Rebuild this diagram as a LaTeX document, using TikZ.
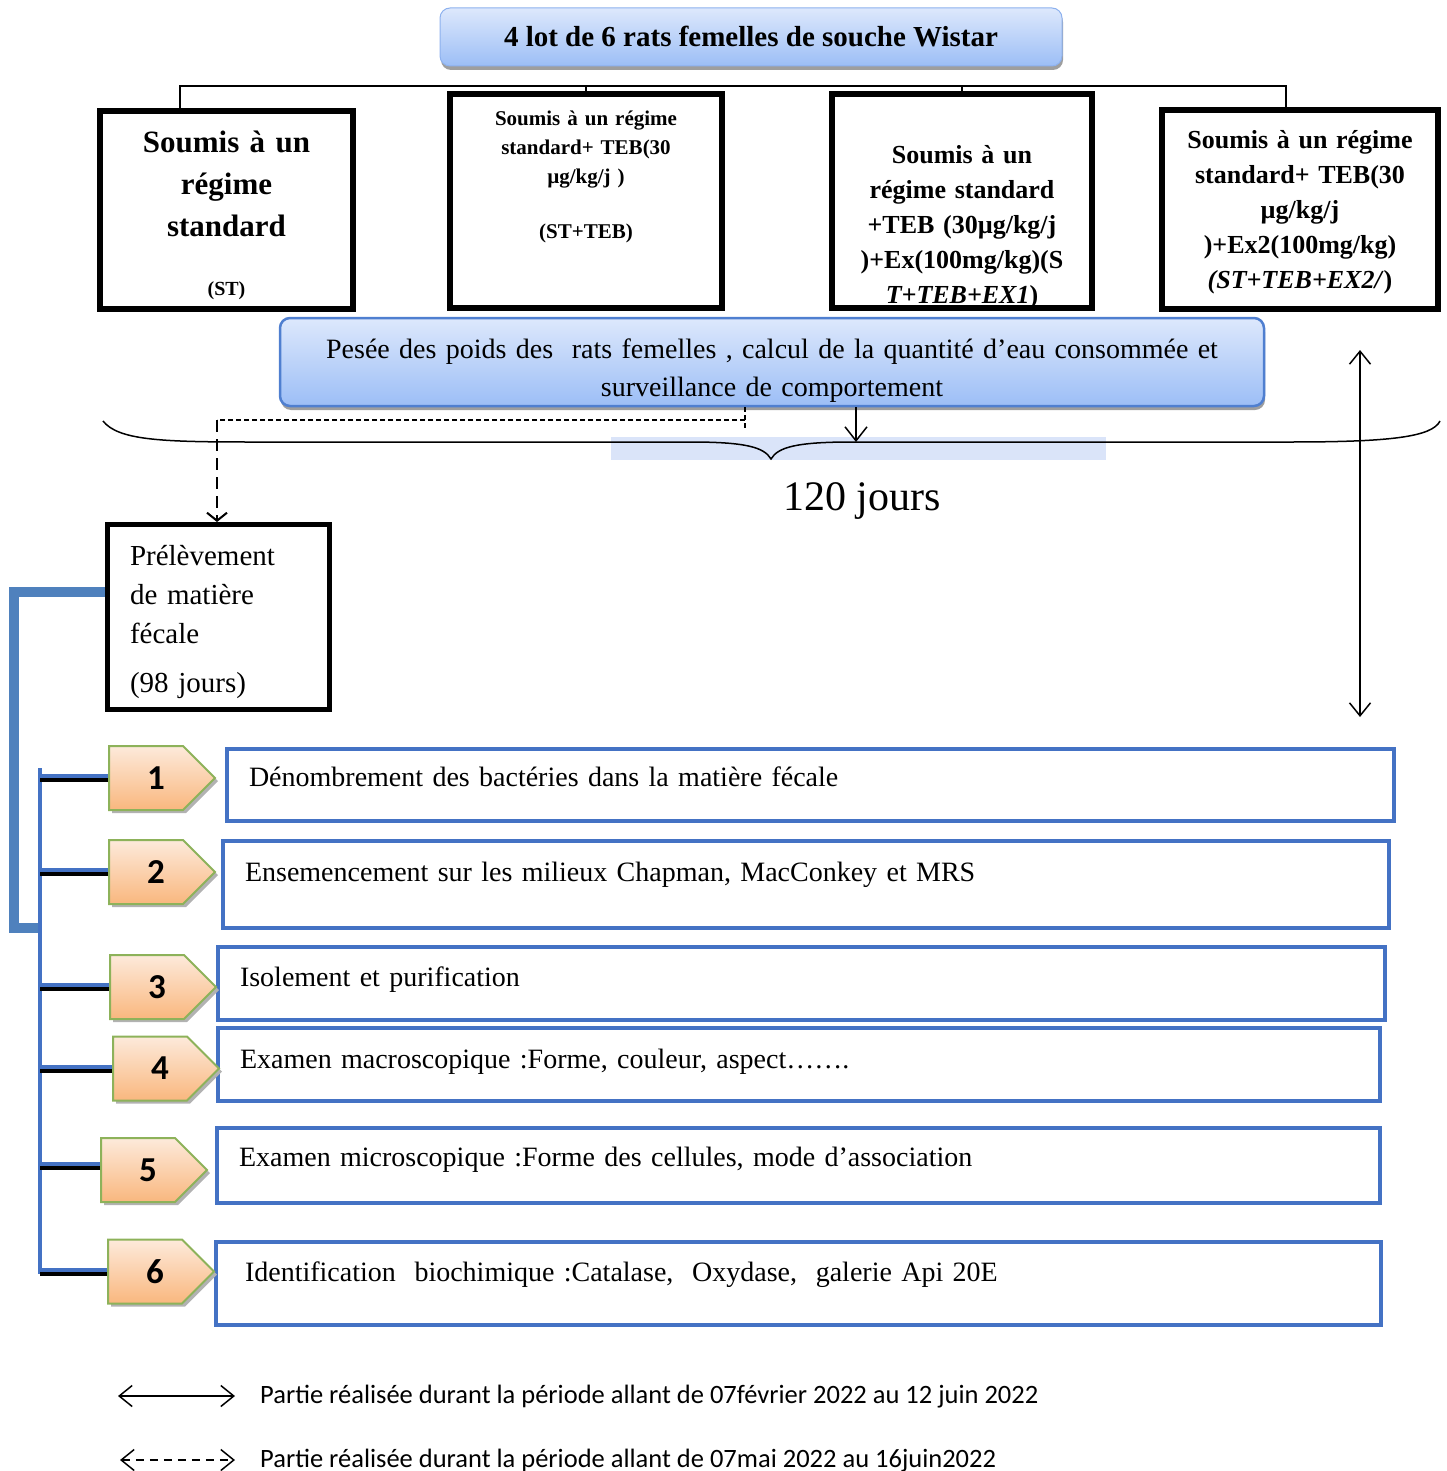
\documentclass[tikz,border=0pt]{standalone}
\usepackage{fontspec}
\setmainfont{Liberation Serif}
\newfontfamily\calibri{Carlito}
\usepackage{xcolor}
\usepackage{tikz}
\usetikzlibrary{shapes.symbols, arrows.meta, positioning, shadows}

\newcommand\fsz[2]{\fontsize{#1}{#2}\selectfont}

\definecolor{skytop}{HTML}{DDE8FC}
\definecolor{skybot}{HTML}{9CBEF6}
\definecolor{skyline}{HTML}{4F7FD0}
\definecolor{stepblue}{HTML}{4472C4}
\definecolor{bracketblue}{HTML}{4F81BD}
\definecolor{tagtop}{HTML}{FDEADB}
\definecolor{tagbot}{HTML}{F9B77E}
\definecolor{taggreen}{HTML}{8DB25A}
\definecolor{braceback}{HTML}{DAE4F9}

\begin{document}
\begin{tikzpicture}[
    x=1pt, y=-1pt,
    skybox/.style={rounded corners=10pt, top color=skytop, bottom color=skybot, draw=skybot!80!skyline, line width=1pt,
        drop shadow={shadow xshift=1pt, shadow yshift=-4pt, fill=black!38, opacity=1}},
    lotbox/.style={draw, line width=6pt, inner sep=0pt, align=center},
    fecbox/.style={draw, line width=5pt, inner xsep=22.5pt, inner ysep=0pt, align=left, font=\fsz{29}{39}},
    stepbox/.style={draw=stepblue, line width=4pt, anchor=north west, inner xsep=22pt, inner ysep=0pt, align=left, font=\fsz{28}{32}},
    numtag/.style={signal, signal to=east, signal pointer angle=90, draw=taggreen, line width=2pt,
        top color=tagtop, bottom color=tagbot, minimum width=106pt, minimum height=64pt, inner sep=0pt, anchor=west,
        drop shadow={shadow xshift=3pt, shadow yshift=-3pt, fill=black!30, opacity=1},
        font=\calibri\bfseries\fsz{35}{35}},
    orgline/.style={line width=2pt},
    arr/.style={-{Straight Barb[length=14pt, width=22pt]}, line width=1.5pt},
    dblarr/.style={{Straight Barb[length=13pt, width=21pt]}-{Straight Barb[length=13pt, width=21pt]}, line width=1.5pt},
    smalldash/.style={line width=1.5pt, dash pattern=on 5pt off 3pt},
    longdash/.style={line width=2pt, dash pattern=on 12pt off 7pt},
    stubblue/.style={line width=4pt, stepblue},
    stubblack/.style={line width=4pt, black},
    legend/.style={anchor=base west, inner sep=0pt, font=\calibri\fsz{26.5}{30}}
]
\useasboundingbox (0,0) rectangle (1446,1471);

% Title
\node[skybox, minimum width=622pt, minimum height=58pt, font=\bfseries\fsz{29}{32}] (title) at (751,37) {4 lot de 6 rats femelles de souche Wistar};

% The four groups
\node[lotbox, text width=253pt, text height=42pt, text depth=156pt, font=\bfseries\fsz{31}{42}] (lot1) at (226.5,210)
    {Soumis à un\\ régime\\ standard\\[17pt]{\fsz{20}{24}(ST)}};
\node[lotbox, text width=272pt, text height=32pt, text depth=182pt, font=\bfseries\fsz{21}{29}] (lot2) at (586,201)
    {Soumis à un régime\\ standard+ TEB(30\\ µg/kg/j )\\[26pt](ST+TEB)};
\node[lotbox, text width=260pt, text height=70pt, text depth=144pt, font=\bfseries\fsz{26}{35}] (lot3) at (962,201)
    {Soumis à un\\ régime standard\\ +TEB (30µg/kg/j\\ )+Ex(100mg/kg)(S\\ \textit{T+TEB+EX1})};
\node[lotbox, text width=276pt, text height=39pt, text depth=160pt, font=\bfseries\fsz{26}{35}] (lot4) at (1300,209.5)
    {Soumis à un régime\\ standard+ TEB(30\\ µg/kg/j\\ )+Ex2(100mg/kg)\\ \textit{(ST+TEB+EX2/})};

\draw[orgline] ([xshift=-47pt]lot1.north) -- ++(0,-22) -| ([xshift=-14pt]lot4.north);
\draw[orgline] (lot2.north) -- ++(0,-5);
\draw[orgline] (lot3.north) -- ++(0,-5);

% Follow-up
\node[skybox, draw=skyline, line width=2.5pt, inner sep=0pt, text width=984pt, text height=40pt, text depth=48pt,
    align=center, font=\fsz{28}{38}] (pesee) at (772,362)
    {Pesée des poids des\ \ rats femelles , calcul de la quantité d’eau consommée et\\ surveillance de comportement};

% 120 days brace
\fill[braceback] (611,437) rectangle (1106,460);
\draw[line width=1.5pt] (103,421) .. controls (118,440) and (160,442) .. (250,442) -- (690,442)
    .. controls (745,442) and (764,447) .. (771,459) .. controls (778,447) and (797,442) .. (852,442)
    -- (1290,442) .. controls (1390,442) and (1432,437) .. (1440,421);
\node[font=\fsz{42}{46}] (duree) at (862,501) {120 jours};
\coordinate (bracemid) at (856,442);
\draw[arr] (pesee.south -| bracemid) -- (bracemid);

% Whole period
\coordinate (periodtop) at (1360,350);
\coordinate (periodbot) at (1360,717);
\draw[dblarr] (periodtop) -- (periodbot);

% Sampling
\node[fecbox, text width=177pt, text height=40.5pt, text depth=144.5pt] (prel) at (218.5,617)
    {Prélèvement\\ de matière\\ fécale\\[10pt](98 jours)};
\coordinate (dcross) at (745,420);
\coordinate (dcorner) at (217,420);
\draw[smalldash] (dcross |- pesee.south) -- ++(0,22);
\draw[smalldash] (dcross) -- (dcorner);
\draw[longdash, -{Straight Barb[length=8pt, width=20pt]}] (dcorner) -- (dcorner |- prel.north);

% Analyses
\coordinate (bend) at (14,928);
\coordinate (spinetop) at (40,768);
\coordinate (spinebot) at (40,1274);
\draw[line width=10pt, bracketblue] ([yshift=25pt]prel.west) -| (bend) -- ++(24,0);
\draw[stubblue, line width=4.5pt] (spinetop) -- (spinebot);

\node[stepbox, text width=1123pt, text height=37pt, text depth=35pt] (step1) at (225,747)
    {Dénombrement des bactéries dans la matière fécale};
\node[stepbox, text width=1122pt, text height=40pt, text depth=47pt] (step2) at (221,839)
    {Ensemencement sur les milieux Chapman, MacConkey et MRS};
\node[stepbox, text width=1123pt, text height=39pt, text depth=34pt] (step3) at (216,945)
    {Isolement et purification};
\node[stepbox, text width=1118pt, text height=40pt, text depth=33pt] (step4) at (216,1026)
    {Examen macroscopique :Forme, couleur, aspect…….};
\node[stepbox, text width=1119pt, text height=38pt, text depth=37pt] (step5) at (215,1126)
    {Examen microscopique :Forme des cellules, mode d’association};
\node[stepbox, inner xsep=29pt, text width=1107pt, text height=39pt, text depth=44pt] (step6) at (214,1240)
    {Identification\ \ biochimique :Catalase,\ \ Oxydase,\ \ galerie Api 20E};

\node[numtag] (tag1) at (108,778) {\hspace*{20pt}\raisebox{-3pt}{1}};
\node[numtag] (tag2) at (108,872) {\hspace*{20pt}\raisebox{-3pt}{2}};
\node[numtag] (tag3) at (109,987) {\hspace*{20pt}\raisebox{-3pt}{3}};
\node[numtag] (tag4) at (112,1068.5) {\hspace*{20pt}\raisebox{-3pt}{4}};
\node[numtag] (tag5) at (100,1170) {\hspace*{20pt}\raisebox{-3pt}{5}};
\node[numtag] (tag6) at (107,1271.5) {\hspace*{20pt}\raisebox{-3pt}{6}};

\draw[stubblue, transform canvas={yshift=2pt}] (tag1.west) -- (tag1.west -| spinetop);
\draw[stubblack, transform canvas={yshift=-2pt}] (tag1.west) -- (tag1.west -| spinetop);
\draw[stubblue, transform canvas={yshift=2pt}] (tag2.west) -- (tag2.west -| spinetop);
\draw[stubblack, transform canvas={yshift=-2pt}] (tag2.west) -- (tag2.west -| spinetop);
\draw[stubblue, transform canvas={yshift=2pt}] (tag3.west) -- (tag3.west -| spinetop);
\draw[stubblack, transform canvas={yshift=-2pt}] (tag3.west) -- (tag3.west -| spinetop);
\draw[stubblue, transform canvas={yshift=2pt}] (tag4.west) -- (tag4.west -| spinetop);
\draw[stubblack, transform canvas={yshift=-2pt}] (tag4.west) -- (tag4.west -| spinetop);
\draw[stubblue, transform canvas={yshift=6pt}] (tag5.west) -- (tag5.west -| spinetop);
\draw[stubblack, transform canvas={yshift=2pt}] (tag5.west) -- (tag5.west -| spinetop);
\draw[stubblue, transform canvas={yshift=2pt}] (tag6.west) -- (tag6.west -| spinetop);
\draw[stubblack, transform canvas={yshift=-2pt}] (tag6.west) -- (tag6.west -| spinetop);

% Legend
\coordinate (leg1a) at (118,1396);
\coordinate (leg1b) at (235,1396);
\coordinate (leg2a) at (120,1460);
\coordinate (leg2b) at (235,1460);
\draw[dblarr] (leg1a) -- (leg1b);
\draw[dblarr, dash pattern=on 8pt off 6pt] (leg2a) -- (leg2b);
\node[legend] (leg1) at (260,1403) {Partie réalisée durant la période allant de 07février 2022 au 12 juin 2022};
\node[legend] (leg2) at (260,1467) {Partie réalisée durant la période allant de 07mai 2022 au 16juin2022};

\end{tikzpicture}
\end{document}
